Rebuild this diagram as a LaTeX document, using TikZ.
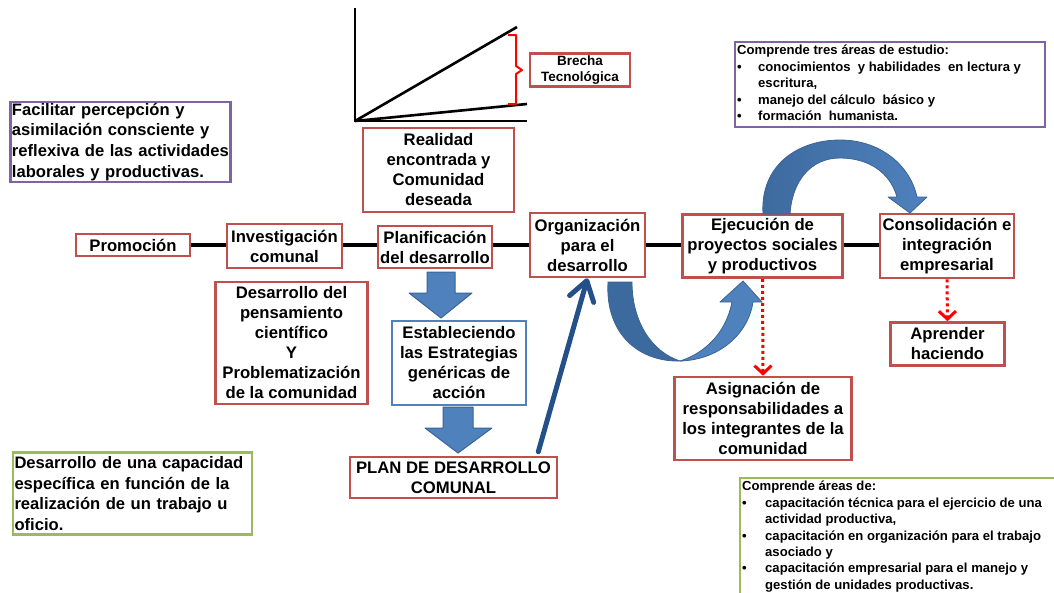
\documentclass[tikz,border=0pt]{standalone}
\usepackage{fontspec}
\setmainfont{Liberation Sans}
\usetikzlibrary{arrows.meta}
\definecolor{bred}{HTML}{C0504D}
\definecolor{bblue}{HTML}{4F81BD}
\definecolor{bpurple}{HTML}{8064A2}
\definecolor{bgreen}{HTML}{9BBB59}
\definecolor{arrowedge}{HTML}{3A6494}
\definecolor{arrowdark}{HTML}{3D6A9E}
\definecolor{darkarrow}{HTML}{24508A}
\begin{document}
\begin{tikzpicture}[x=1pt,y=-1pt,
  box/.style={fill=white, line width=2.6pt, inner sep=0pt, align=center,
    font=\fontsize{16.7}{20}\selectfont\bfseries},
  redbox/.style={box, draw=bred},
  bluebox/.style={box, draw=bblue},
  notebox/.style={fill=white, line width=2.6pt, inner sep=0pt, align=left,
    font=\fontsize{16.6}{20.8}\selectfont\bfseries},
  smalltext/.style={inner sep=0pt, align=left, font=\fontsize{13.1}{16.4}\selectfont\bfseries},
  mainline/.style={line width=3.5pt, black},
  blockarrow/.style={fill=bblue, draw=arrowedge, line width=1pt, line join=round},
  dotarrow/.style={red, line width=3pt, dash pattern=on 3pt off 3pt,
    -{Straight Barb[length=8pt,width=17pt,line width=3pt]}},
  axis/.style={line width=2.6pt, black},
]
\useasboundingbox (0,0) rectangle (1054,592);

% chart
\coordinate (o) at (355,121);
\coordinate (ytop) at (355,8);
\coordinate (xend) at (527,121);
\coordinate (up) at (517,27);
\coordinate (low) at (527,104);
\draw[axis] (ytop) -- (o) -- (xend);
\draw[axis] (o) -- (up);
\draw[axis] (o) -- (low);
\draw[red, line width=2pt, line join=round] (508,35) -- (516,35) -- (516,66) -- (522,70) -- (516,74) -- (516,104) -- (508,104);
\node[redbox, minimum width=100pt, minimum height=33pt, font=\fontsize{13.5}{16}\selectfont\bfseries] (brecha) at (580,70) {Brecha\\Tecnológica};

% main boxes
\node[redbox, minimum width=151pt, minimum height=84pt] (real) at (438.5,170) {Realidad\\encontrada y\\Comunidad\\deseada};
\node[redbox, minimum width=114pt, minimum height=22pt] (prom) at (133,245) {Promoción};
\node[redbox, minimum width=115pt, minimum height=44pt] (inv) at (284.5,246) {Investigación\\comunal};
\node[redbox, minimum width=114pt, minimum height=42pt] (plan) at (435,247) {Planificación\\del desarrollo};
\node[redbox, minimum width=115pt, minimum height=64pt] (org) at (587.5,245) {Organización\\para el\\desarrollo};
\node[redbox, minimum width=160pt, minimum height=63pt] (ejec) at (762.5,246) {Ejecución de\\proyectos sociales\\y productivos};
\node[redbox, minimum width=134pt, minimum height=64pt] (cons) at (947,246) {Consolidación e\\integración\\empresarial};
\node[redbox, minimum width=152pt, minimum height=122pt] (des) at (291.5,343) {Desarrollo del\\pensamiento\\científico\\Y\\Problematización\\de la comunidad};
\node[bluebox, minimum width=134pt, minimum height=84pt] (est) at (459,363) {Estableciendo\\las Estrategias\\genéricas de\\acción};
\node[redbox, minimum width=207pt, minimum height=41pt] (pdc) at (453.5,477.5) {PLAN DE DESARROLLO\\COMUNAL};
\node[redbox, minimum width=177pt, minimum height=83pt] (asig) at (763,418.5) {Asignación de\\responsabilidades a\\los integrantes de la\\comunidad};
\node[redbox, minimum width=114pt, minimum height=43pt] (apr) at (947.5,344) {Aprender\\haciendo};

% main line segments
\draw[mainline] (prom.east) -- (inv.west |- prom.east);
\draw[mainline] (inv.east |- prom.east) -- (plan.west |- prom.east);
\draw[mainline] (plan.east |- prom.east) -- (org.west |- prom.east);
\draw[mainline] (org.east |- prom.east) -- (ejec.west |- prom.east);
\draw[mainline] (ejec.east |- prom.east) -- (cons.west |- prom.east);

% note boxes
\node[notebox, draw=bpurple, minimum width=220pt, minimum height=80pt, text width=217pt] (fac) at (120.5,142)
  {Facilitar percepción y\\asimilación consciente y\\reflexiva de las actividades\\laborales y productivas.};
\node[notebox, draw=bgreen, minimum width=239pt, minimum height=82pt, text width=236pt] (gcap) at (132.5,493.5)
  {Desarrollo de una capacidad\\específica en función de la\\realización de un trabajo u\\oficio.};

\draw[bpurple, line width=2.6pt, fill=white] (735,42) rectangle (1045,127);
\node[smalltext, anchor=north west] (tres) at (737,45)
  {Comprende tres áreas de estudio:\\
   \makebox[21pt][l]{•}conocimientos\ \ y habilidades\ \ en lectura y\\
   \hspace*{21pt}escritura,\\
   \makebox[21pt][l]{•}manejo del cálculo\ \ básico y\\
   \makebox[21pt][l]{•}formación\ \ humanista.};

\draw[bgreen, line width=2.6pt, fill=white] (740,478) rectangle (1070,610);
\node[smalltext, anchor=north west] (areas) at (742,481)
  {Comprende áreas de:\\
   \makebox[23pt][l]{•}capacitación técnica para el ejercicio de una\\
   \hspace*{23pt}actividad productiva,\\
   \makebox[23pt][l]{•}capacitación en organización para el trabajo\\
   \hspace*{23pt}asociado y\\
   \makebox[23pt][l]{•}capacitación empresarial para el manejo y\\
   \hspace*{23pt}gestión de unidades productivas.};

% block arrows down
\draw[blockarrow] (427,272) -- (455,272) -- (455,293) -- (472,293) -- (441,318) -- (409,293) -- (427,293) -- cycle;
\draw[blockarrow] (443,407) -- (473,407) -- (473,428) -- (492,428) -- (458,453) -- (425,428) -- (443,428) -- cycle;

% dark arrow from plan to organizacion
\draw[darkarrow, line width=5pt, line cap=round, -{Straight Barb[length=19pt,width=25pt,round]}] (pdc.north east) ++(-20,-4) -- (org.south);

% lower U arrow
\fill[arrowdark, draw=arrowedge, line width=0.8pt]
  (608,282) .. controls (605,335) and (640,362) .. (680,361)
  .. controls (652,352) and (632,322) .. (632,282) -- cycle;
\fill[bblue, draw=arrowedge, line width=0.8pt, line join=round]
  (680,361) .. controls (718,360) and (748,335) .. (753,302) -- (762,302) -- (743,281) -- (720,302) -- (732,302)
  .. controls (726,333) and (705,353) .. (680,361) -- cycle;

% upper arrow
\shade[left color=arrowdark, right color=bblue, draw=arrowedge, line width=0.8pt, line join=round]
  (763,214) .. controls (760,165) and (798,140) .. (840,140)
  .. controls (880,140) and (910,165) .. (917,197) -- (927,197) -- (910,213) -- (888,197) -- (897,197)
  .. controls (890,172) and (868,158) .. (840,158)
  .. controls (810,158) and (792,182) .. (790,214) -- cycle;

% red dotted arrows
\draw[dotarrow] (ejec.south) -- (asig.north);
\draw[dotarrow] (cons.south) -- (apr.north);
\end{tikzpicture}
\end{document}
